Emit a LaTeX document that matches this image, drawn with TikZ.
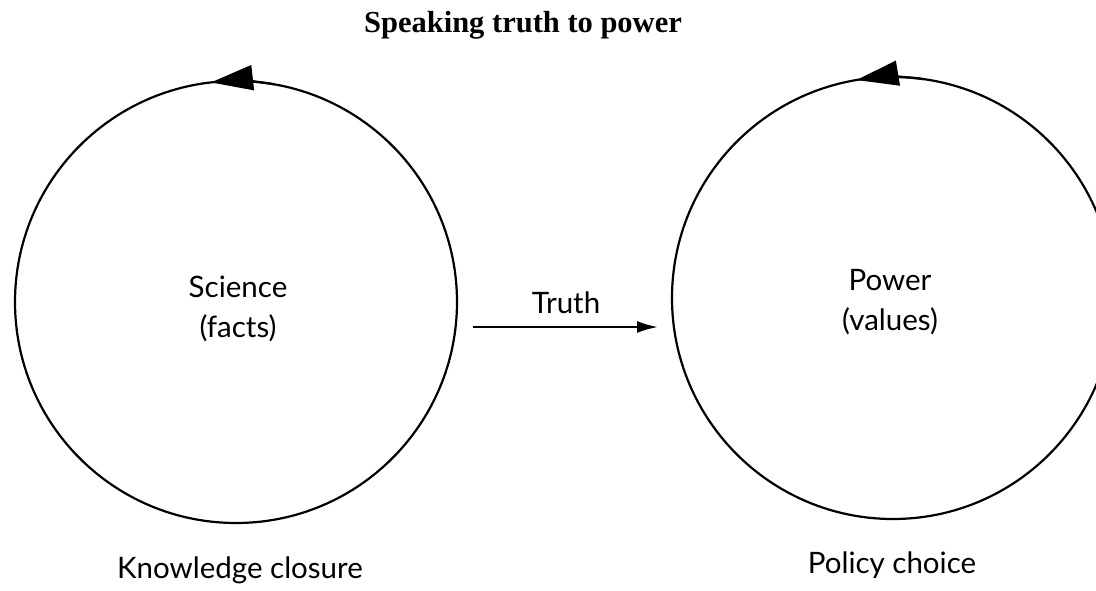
\documentclass[tikz,border=0pt]{standalone}
\usepackage{fontspec}
\setmainfont{Lato}
\newfontfamily\titlefont{Liberation Serif}
\usetikzlibrary{arrows.meta}

\begin{document}
\begin{tikzpicture}[x=1pt, y=-1pt,
  ring/.style={circle, draw=black, line width=2.2pt, minimum size=442pt, inner sep=0pt},
  label/.style={font=\fontsize{29.5}{40}\selectfont, align=center, inner sep=0pt},
  heading/.style={font=\titlefont\bfseries\fontsize{30.5}{36}\selectfont, inner sep=0pt},
  loophead/.style={-{Triangle[length=42pt, width=25pt]}, line width=2.2pt},
  flow/.style={-{Latex[length=21pt, width=12pt]}, line width=2.2pt}]
  \useasboundingbox (0,0) rectangle (1096,590);
  \clip (0,0) rectangle (1096,590);

  % title
  \node[heading, anchor=base] (title) at (523,32) {Speaking truth to power};

  % the two cycles
  \node[ring] (sci) at (236,302) {};
  \node[ring] (pow) at (893,298) {};

  % direction of each cycle
  \draw[loophead] ([shift={(80:221pt)}]sci.center) arc[start angle=80, end angle=96.5, radius=221pt];
  \draw[loophead] ([shift={(82:221pt)}]pow.center) arc[start angle=82, end angle=99.5, radius=221pt];

  % labels inside the cycles
  \node[label] (scitext) at (238,309) {Science\\(facts)};
  \node[label] (powtext) at (890,302) {Power\\(values)};

  % truth flows from science to power
  \coordinate (t0) at (473,327);
  \coordinate (t1) at (658,327);
  \draw[flow] (t0) -- (t1);
  \node[label, anchor=base] (truth) at (566,313) {Truth};

  % captions
  \node[label, anchor=base] (know) at (240,578) {Knowledge closure};
  \node[label, anchor=base] (policy) at (892,573) {Policy choice};
\end{tikzpicture}
\end{document}
